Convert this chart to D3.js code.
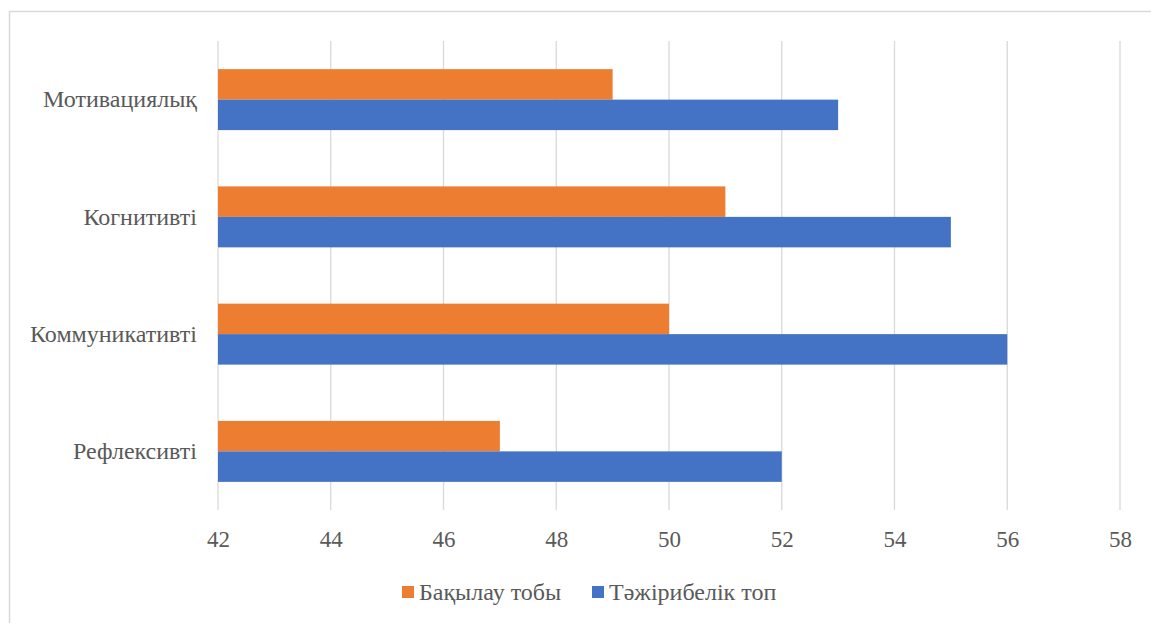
<!DOCTYPE html>
<html>
<head>
<meta charset="utf-8">
<script src="https://cdn.jsdelivr.net/npm/d3@7"></script>
</head>
<body style="margin:0">
<svg id="chart"></svg>
<script>
// categories top to bottom
const categories = ['Мотивациялық', 'Когнитивті', 'Коммуникативті', 'Рефлексивті'];
const seriesNames = ['Бақылау тобы', 'Тәжірибелік топ'];
const control = [49, 51, 50, 47];
const experimental = [53, 55, 56, 52];
const xTicks = [42, 44, 46, 48, 50, 52, 54, 56, 58];
const colors = ['#ED7D31', '#4472C4'];

const FONT = 'Liberation Serif';
const TEXT_COLOR = '#595959';

const width = 1151, height = 623;
const margin = {top: 41, right: 31, bottom: 113, left: 218};

const svg = d3.select('#chart')
    .attr('width', width)
    .attr('height', height);

// outer frame
svg.append('rect')
    .attr('x', 9.5).attr('y', 11.5)
    .attr('width', 1150).attr('height', 620)
    .attr('fill', 'none')
    .attr('stroke', '#d9d9d9')
    .attr('stroke-width', 1.5);

const innerW = width - margin.left - margin.right;
const innerH = height - margin.top - margin.bottom;

const chart = svg.append('g')
    .attr('transform', `translate(${margin.left},${margin.top})`);

const x = d3.scaleLinear().domain([42, 58]).range([0, innerW]);
const y = d3.scaleBand().domain(categories).range([0, innerH])
    .paddingInner(0.48).paddingOuter(0.24);
const ySub = d3.scaleBand().domain(seriesNames).range([0, y.bandwidth()]);

// gridlines
chart.append('g')
    .selectAll('line')
    .data(xTicks)
    .join('line')
    .attr('x1', d => x(d)).attr('x2', d => x(d))
    .attr('y1', 0).attr('y2', innerH)
    .attr('stroke', '#d9d9d9')
    .attr('stroke-width', 1.3);

// bars
const rows = categories.map((c, i) => ({cat: c, vals: [control[i], experimental[i]]}));
const groups = chart.selectAll('.grp')
    .data(rows)
    .join('g')
    .attr('class', 'grp')
    .attr('transform', d => `translate(0,${y(d.cat)})`);

groups.selectAll('rect')
    .data(d => d.vals.map((v, j) => ({name: seriesNames[j], v, j})))
    .join('rect')
    .attr('x', x(42))
    .attr('y', d => ySub(d.name))
    .attr('width', d => x(d.v) - x(42))
    .attr('height', ySub.bandwidth())
    .attr('fill', d => colors[d.j]);

// x axis labels
const xAxis = d3.axisBottom(x).tickValues(xTicks).tickSize(0).tickPadding(21);
const xg = chart.append('g')
    .attr('transform', `translate(0,${innerH})`)
    .call(xAxis)
    .attr('font-family', FONT);
xg.select('.domain').remove();
xg.selectAll('text')
    .style('font-family', FONT)
    .style('font-size', '23px')
    .attr('fill', TEXT_COLOR);

// y axis labels
const yAxis = d3.axisLeft(y).tickSize(0).tickPadding(21);
const yg = chart.append('g').call(yAxis)
    .attr('font-family', FONT);
yg.select('.domain').remove();
yg.selectAll('text')
    .style('font-family', FONT)
    .style('font-size', '24px')
    .attr('fill', TEXT_COLOR);

// legend
const legendX = [402, 592];
const legend = svg.append('g').attr('transform', 'translate(0,592)');
seriesNames.forEach((name, i) => {
    legend.append('rect')
        .attr('x', legendX[i]).attr('y', -6)
        .attr('width', 12).attr('height', 12)
        .attr('fill', colors[i]);
    legend.append('text')
        .attr('x', legendX[i] + 17).attr('y', 0)
        .attr('dy', '0.35em')
        .style('font-family', FONT)
        .style('font-size', '24px')
        .attr('fill', TEXT_COLOR)
        .text(name);
});
</script>
</body>
</html>
